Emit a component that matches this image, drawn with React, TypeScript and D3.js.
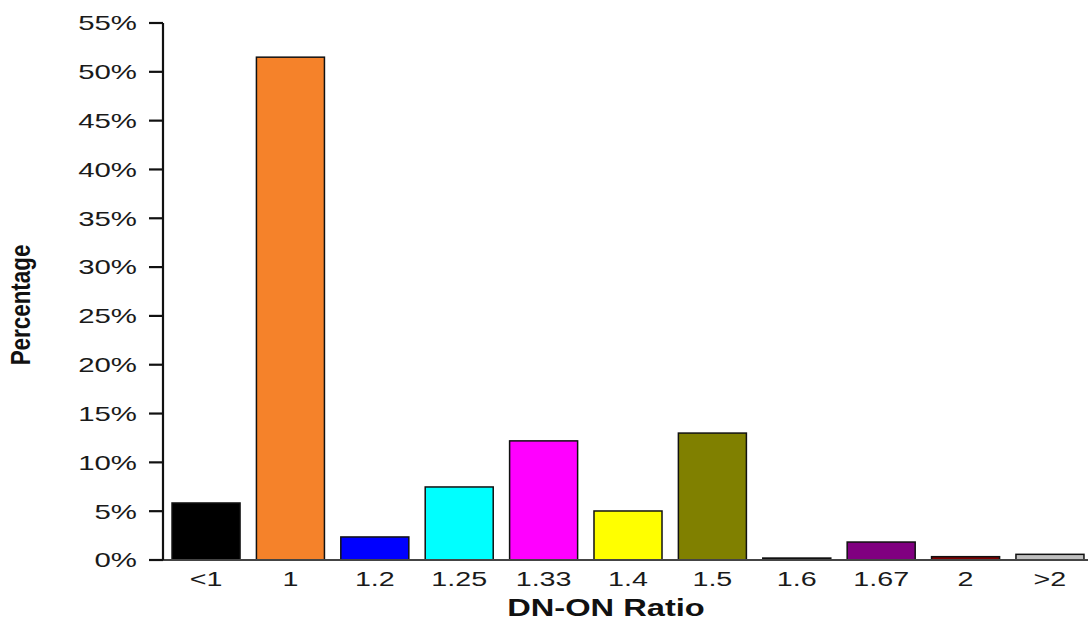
import React from "react";
import * as d3 from "d3";

const categories = ["<1", "1", "1.2", "1.25", "1.33", "1.4", "1.5", "1.6", "1.67", "2", ">2"];
const values = [5.84, 51.5, 2.36, 7.48, 12.2, 5.02, 13.0, 0.2, 1.84, 0.34, 0.58];
const colors = ["#000000", "#F5822A", "#0000FF", "#00FFFF", "#FF00FF", "#FFFF00", "#808000", "#000000", "#800080", "#800000", "#C0C0C0"];
const yTicks = [0, 5, 10, 15, 20, 25, 30, 35, 40, 45, 50, 55];

const W = 1090;
const H = 621;
const axisX = 163;
const y0 = 560;
const y55 = 23;
const SX = 1.4;

export default function App() {
  const y = d3.scaleLinear().domain([0, 55]).range([y0, y55]);
  const x = d3
    .scaleBand<string>()
    .domain(categories)
    .range([163, 1093])
    .paddingInner(0.194)
    .paddingOuter(0.107);
  const font = "'Liberation Sans', Arial, sans-serif";
  return (
    <svg
      width={W}
      height={H}
      style={{ position: "absolute", left: 0, top: 0, background: "#fff" }}
      fontFamily={font}
    >
      {categories.map((c, i) => (
        <rect
          key={c}
          x={x(c)}
          y={y(values[i])}
          width={x.bandwidth()}
          height={y0 - y(values[i])}
          fill={colors[i]}
          stroke="#111"
          strokeWidth={1.5}
        />
      ))}
      <line x1={axisX} x2={1088} y1={y0} y2={y0} stroke="#444" strokeWidth={2} />
      <line x1={axisX} x2={axisX} y1={y55} y2={y0} stroke="#111" strokeWidth={2.2} />
      {yTicks.map((t) => (
        <g key={t}>
          <line x1={149} x2={axisX} y1={y(t)} y2={y(t)} stroke="#111" strokeWidth={2.2} />
          <text
            transform={`translate(137,${y(t)}) scale(${SX},1)`}
            textAnchor="end"
            dominantBaseline="central"
            fontSize={21}
            fill="#1a1a1a"
          >
            {t}%
          </text>
        </g>
      ))}
      {categories.map((c) => (
        <text
          key={"l" + c}
          transform={`translate(${(x(c) as number) + x.bandwidth() / 2},578.5) scale(${SX},1)`}
          textAnchor="middle"
          dominantBaseline="central"
          fontSize={20.5}
          fill="#1a1a1a"
        >
          {c}
        </text>
      ))}
      <text
        transform={`translate(606,608) scale(1.36,1)`}
        textAnchor="middle"
        dominantBaseline="central"
        fontSize={24}
        fontWeight="bold"
        fill="#111"
      >
        DN-ON Ratio
      </text>
      <text
        transform={`translate(30,305) rotate(-90) scale(1.12,1.4)`}
        textAnchor="middle"
        fontSize={20}
        fontWeight="bold"
        fill="#111"
      >
        Percentage
      </text>
    </svg>
  );
}
